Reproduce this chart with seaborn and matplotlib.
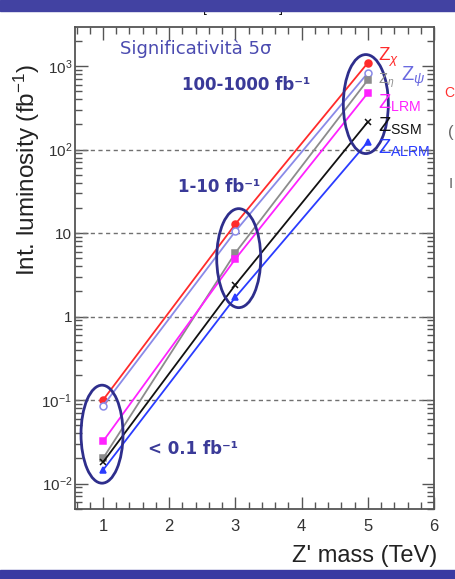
import matplotlib
matplotlib.use("Agg")
import matplotlib.pyplot as plt
import seaborn as sns
from matplotlib.patches import Ellipse, Rectangle
from matplotlib.transforms import ScaledTranslation
from matplotlib.ticker import MultipleLocator, LogLocator, NullFormatter

# Z' mass points (TeV) and 5-sigma discovery luminosity (fb^-1) per model
masses = [1, 3, 5]
lum_chi = [0.100, 12.8, 1090]
lum_psi = [0.085, 10.5, 825]
lum_eta = [0.020, 5.8, 680]
lum_lrm = [0.032, 4.9, 475]
lum_ssm = [0.018, 2.4, 214]
lum_alrm = [0.0145, 1.7, 123]

x_ticks = [1, 2, 3, 4, 5, 6]
y_ticks = [0.01, 0.1, 1, 10, 100, 1000]
y_tick_labels = ["$10^{-2}$", "$10^{-1}$", "1", "10", "$10^{2}$", "$10^{3}$"]

sns.set_theme(style="ticks")
plt.rcParams["font.family"] = ["Liberation Sans", "DejaVu Sans"]
plt.rcParams["mathtext.fontset"] = "custom"
plt.rcParams["mathtext.rm"] = "Liberation Sans"
plt.rcParams["mathtext.sf"] = "Liberation Sans"
plt.rcParams["mathtext.it"] = "Liberation Sans:italic"

W, H = 455, 579
fig = plt.figure(figsize=(W / 100, H / 100), dpi=100)
fig.patch.set_facecolor("white")


def fx(px):
    return px / W


def fy(py):
    return 1 - py / H


ax = fig.add_axes([fx(75), fy(509), (434 - 75) / W, (509 - 27) / H])
ax.set_facecolor("white")

series = [
    (lum_chi, "#ff2b2b", "o", "#ff2b2b", 5),
    (lum_psi, "#8a8ae8", "o", "white", 5),
    (lum_eta, "#8c8c8c", "s", "#8c8c8c", 5),
    (lum_lrm, "#ff22ff", "s", "#ff22ff", 5),
    (lum_ssm, "#111111", "x", "#111111", 4),
    (lum_alrm, "#2a3cff", "^", "#2a3cff", 5),
]
for vals, col, mk, mfc, ms in series:
    sns.lineplot(x=masses, y=vals, ax=ax, color=col, lw=1.3, marker=mk,
                 markersize=ms, markerfacecolor=mfc, markeredgecolor=col,
                 markeredgewidth=1.1, zorder=3)

ax.set_yscale("log")
ax.set_xlim(0.577, 6)
ax.set_ylim(10 ** -2.305, 10 ** 3.467)

# dashed decade guides
for yv in [0.1, 1, 10, 100]:
    ax.axhline(yv, color="#707070", lw=1.0, ls=(0, (3, 2.5)), zorder=1)

ax.set_xticks(x_ticks)
ax.xaxis.set_minor_locator(MultipleLocator(0.2))
ax.set_yticks(y_ticks, y_tick_labels)
ax.yaxis.set_minor_locator(LogLocator(base=10, subs=range(2, 10)))
ax.yaxis.set_minor_formatter(NullFormatter())
ax.tick_params(which="both", direction="in", top=True, right=True,
               colors="#555555", labelcolor="#333333")
ax.tick_params(which="major", length=9, width=1.0)
ax.tick_params(which="minor", length=5, width=1.0)
ax.tick_params(axis="x", labelsize=12, pad=7)
ax.tick_params(axis="y", labelsize=11, pad=2)
for sp in ax.spines.values():
    sp.set_color("#555555")
    sp.set_linewidth(1.3)

ax.set_xlabel("")
ax.set_ylabel("")
fig.text(fx(437), fy(556), "Z' mass (TeV)", ha="right", va="center",
         fontsize=17, color="#222222")
fig.text(fx(27), fy(170), "Int. luminosity (fb$^{-1}$)", ha="center",
         va="center", rotation=90, fontsize=17.5, color="#222222")


def ring(xc, yc, w, h):
    tr = fig.dpi_scale_trans + ScaledTranslation(xc, yc, ax.transData)
    ax.add_patch(Ellipse((0, 0), w / 100, h / 100, transform=tr, fill=False,
                         ec="#2e2e8c", lw=2, zorder=4, clip_on=False))


ring(0.985, 0.039, 42, 98)
ring(3.05, 5.0, 44, 99)
ring(4.97, 350, 45, 99)

note = "#3a3a98"
fig.text(fx(120), fy(49), "Significatività 5σ", fontsize=13, color="#4b4bb0",
         family="DejaVu Sans", va="center")
fig.text(fx(182), fy(85), "100-1000 fb⁻¹", fontsize=12, fontweight="bold",
         color=note, family="DejaVu Sans", va="center")
fig.text(fx(178), fy(187), "1-10 fb⁻¹", fontsize=12, fontweight="bold",
         color=note, family="DejaVu Sans", va="center")
fig.text(fx(148), fy(449), "< 0.1 fb⁻¹", fontsize=12, fontweight="bold",
         color=note, family="DejaVu Sans", va="center")

# model labels next to the 5 TeV points
zfs = 13.5
fig.text(fx(378), fy(57), r"$\mathsf{Z}_{\chi}$", fontsize=zfs, color="#ff2b2b", va="center")
fig.text(fx(378), fy(81), r"$\mathsf{Z}_{\eta}$", fontsize=zfs - 3, color="#8c8c8c", va="center")
fig.text(fx(401), fy(77), r"$\mathsf{Z}_{\psi}$", fontsize=zfs + 1, color="#6a6ae0", va="center")
fig.text(fx(378), fy(103), r"$\mathsf{Z}_{\mathsf{LRM}}$", fontsize=zfs + 1, color="#ff22ff", va="center")
fig.text(fx(378), fy(126), r"$\mathsf{Z}_{\mathsf{SSM}}$", fontsize=zfs + 1, color="#111111", va="center")
fig.text(fx(378), fy(148), r"$\mathsf{Z}_{\mathsf{ALRM}}$", fontsize=zfs + 1, color="#2a3cff", va="center")

# slide frame: caption peeking under the header band, side text, bands
fig.text(fx(243), fy(8), "[CMS PTDR]", fontsize=10, color="#111111",
         ha="center", va="center")
fig.text(fx(444), fy(93), "C", fontsize=10, color="#ff3030", va="center")
fig.text(fx(448), fy(133), "(", fontsize=12, color="#666666", va="center")
fig.text(fx(449), fy(184), "I", fontsize=11, color="#666666", va="center")
fig.add_artist(Rectangle((0, fy(10.5)), 1, 10.5 / H, transform=fig.transFigure,
                         color="#4242a2", zorder=10))
fig.add_artist(Rectangle((0, 0), 1, 9 / H, transform=fig.transFigure,
                         color="#3a3aa2", zorder=10))

fig.savefig("out.png", dpi=100)
